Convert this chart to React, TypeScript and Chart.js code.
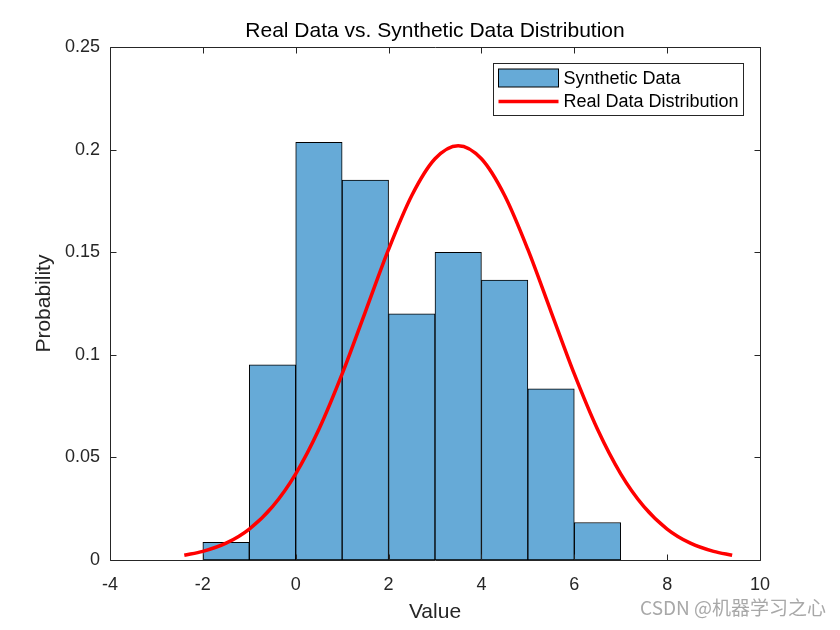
import React, { useEffect, useRef } from "react";
import { Chart, registerables } from "chart.js";

Chart.register(...registerables);

// ---- data ----
const chartTitle = "Real Data vs. Synthetic Data Distribution";
const xAxisTitle = "Value";
const yAxisTitle = "Probability";
const watermark = "CSDN @机器学习之心";

const histLabel = "Synthetic Data";
const binCenters = [-1.5, -0.5, 0.5, 1.5, 2.5, 3.5, 4.5, 5.5, 6.5];
const binProbabilities = [0.0086, 0.0952, 0.2036, 0.1852, 0.12, 0.15, 0.1365, 0.0835, 0.0183];

const curveLabel = "Real Data Distribution";
const curveX = [-2.4, -2, -1.5, -1, -0.5, 0, 0.5, 1, 1.5, 2, 2.5, 3, 3.5, 4, 4.5, 5, 5.5, 6, 6.5, 7, 7.5, 8, 8.5, 9, 9.4];
const curveY = [0.0023, 0.0042, 0.0082, 0.0151, 0.026, 0.042, 0.0637, 0.0907, 0.121, 0.1514, 0.1777, 0.1956, 0.202, 0.1956, 0.1777, 0.1514, 0.121, 0.0907, 0.0637, 0.042, 0.026, 0.0151, 0.0082, 0.0042, 0.0023];

const xTicks = [-4, -2, 0, 2, 4, 6, 8, 10];
const yTicks = [0, 0.05, 0.1, 0.15, 0.2, 0.25];

// ---- styles ----
const FONT = '"Liberation Sans", Arial, Helvetica, sans-serif';
const AXIS_COLOR = "#262626";
const BAR_FILL = "rgb(102,170,215)";
const LINE_COLOR = "rgb(255,0,0)";

const boxPlugin = {
  id: "matlabBox",
  afterLayout(chart: any) {
    // center the title over the plot area (as MATLAB does)
    const tb = chart.titleBlock;
    if (tb) {
      tb.left = chart.chartArea.left;
      tb.right = chart.chartArea.right;
    }
  },
  afterDatasetsDraw(chart: any) {
    const { ctx, chartArea } = chart;
    const { left, right, top, bottom } = chartArea;
    const xs = chart.scales.x;
    const ys = chart.scales.y;
    const tl = 6;
    ctx.save();
    ctx.strokeStyle = AXIS_COLOR;
    ctx.lineWidth = 1;
    ctx.beginPath();
    const L = Math.round(left) + 0.5;
    const R = Math.round(right) + 0.5;
    const T = Math.round(top) + 0.5;
    const B = Math.round(bottom) + 0.5;
    ctx.rect(L, T, R - L, B - T);
    for (const v of xTicks) {
      const px = Math.round(xs.getPixelForValue(v)) + 0.5;
      ctx.moveTo(px, B);
      ctx.lineTo(px, B - tl);
      ctx.moveTo(px, T);
      ctx.lineTo(px, T + tl);
    }
    for (const v of yTicks) {
      const py = Math.round(ys.getPixelForValue(v)) + 0.5;
      ctx.moveTo(L, py);
      ctx.lineTo(L + tl, py);
      ctx.moveTo(R, py);
      ctx.lineTo(R - tl, py);
    }
    ctx.stroke();
    ctx.restore();
  },
  afterDraw(chart: any) {
    const { ctx, chartArea } = chart;
    ctx.save();
    // legend
    const fontSize = 18;
    ctx.font = `${fontSize}px ${FONT}`;
    const labels = [histLabel, curveLabel];
    const textW = Math.max(...labels.map((t) => ctx.measureText(t).width));
    const boxRight = Math.round(chartArea.right - 17) + 0.5;
    const boxTop = Math.round(chartArea.top + 16) + 0.5;
    const swatchW = 60;
    const boxW = 5 + swatchW + 5 + textW + 5;
    const boxH = 52;
    const boxLeft = Math.round(boxRight - boxW) + 0.5;
    ctx.fillStyle = "#ffffff";
    ctx.fillRect(boxLeft, boxTop, boxRight - boxLeft, boxH);
    ctx.strokeStyle = AXIS_COLOR;
    ctx.lineWidth = 1;
    ctx.strokeRect(boxLeft, boxTop, boxRight - boxLeft, boxH);
    const sx = boxLeft + 5;
    // row 1: bar swatch
    const r1 = boxTop + 14.5;
    ctx.fillStyle = BAR_FILL;
    ctx.fillRect(sx, r1 - 9, swatchW, 18);
    ctx.strokeStyle = "#000";
    ctx.strokeRect(sx, r1 - 9, swatchW, 18);
    // row 2: line swatch
    const r2 = boxTop + 38;
    ctx.strokeStyle = LINE_COLOR;
    ctx.lineWidth = 3.5;
    ctx.beginPath();
    ctx.moveTo(sx, r2);
    ctx.lineTo(sx + swatchW, r2);
    ctx.stroke();
    ctx.fillStyle = "#000";
    ctx.textBaseline = "middle";
    ctx.textAlign = "left";
    ctx.fillText(labels[0], sx + swatchW + 5, r1 + 1);
    ctx.fillText(labels[1], sx + swatchW + 5, r2 + 1);
    // watermark
    ctx.font = `19px "Noto Sans CJK SC", ${FONT}`;
    ctx.fillStyle = "#a8a8a8";
    ctx.textAlign = "right";
    ctx.fillText(watermark, 826, 608);
    ctx.restore();
  },
};

export default function App() {
  const ref = useRef<HTMLCanvasElement | null>(null);
  useEffect(() => {
    if (!ref.current) return;
    const chart = new Chart(ref.current, {
      type: "bar",
      data: {
        datasets: [
          {
            type: "line",
            label: curveLabel,
            data: curveX.map((x, i) => ({ x, y: curveY[i] })),
            borderColor: LINE_COLOR,
            borderWidth: 3.5,
            pointRadius: 0,
            tension: 0.4,
            cubicInterpolationMode: "monotone",
            fill: false,
            order: 0,
          } as any,
          {
            type: "bar",
            label: histLabel,
            data: binCenters.map((x, i) => ({ x, y: binProbabilities[i] })),
            backgroundColor: BAR_FILL,
            borderColor: "#000000",
            borderWidth: 1,
            borderSkipped: false,
            barPercentage: 1,
            categoryPercentage: 1,
            order: 1,
          } as any,
        ],
      },
      options: {
        responsive: false,
        animation: false,
        layout: { padding: { left: 0, right: 80, top: 0, bottom: 0 } },
        plugins: {
          legend: { display: false },
          tooltip: { enabled: false },
          title: {
            display: true,
            text: chartTitle,
            color: "#000",
            font: { family: FONT, size: 21, weight: "normal" },
            padding: { top: 19, bottom: 3 },
          },
        },
        scales: {
          x: {
            type: "linear",
            min: -4,
            max: 10,
            offset: false,
            grid: { display: false, drawTicks: false },
            border: { display: false },
            afterBuildTicks: (s: any) => {
              s.ticks = xTicks.map((v) => ({ value: v }));
            },
            afterFit: (s: any) => {
              s.height = 70;
            },
            ticks: {
              color: AXIS_COLOR,
              font: { family: FONT, size: 18 },
              padding: 14,
              maxRotation: 0,
              callback: (v: any) => String(v),
            },
            title: {
              display: true,
              text: xAxisTitle,
              color: AXIS_COLOR,
              font: { family: FONT, size: 21 },
              padding: { top: 0, bottom: 5 },
            },
          },
          y: {
            type: "linear",
            min: 0,
            max: 0.25,
            grid: { display: false, drawTicks: false },
            border: { display: false },
            afterBuildTicks: (s: any) => {
              s.ticks = yTicks.map((v) => ({ value: v }));
            },
            afterFit: (s: any) => {
              s.width = 110;
            },
            ticks: {
              color: AXIS_COLOR,
              font: { family: FONT, size: 18 },
              padding: 10,
              callback: (v: any) => String(+Number(v).toFixed(2)),
            },
            title: {
              display: true,
              text: yAxisTitle,
              color: AXIS_COLOR,
              font: { family: FONT, size: 21 },
              padding: { top: 32, bottom: 0 },
            },
          },
        },
      },
      plugins: [boxPlugin],
    });
    return () => chart.destroy();
  }, []);
  return (
    <canvas
      ref={ref}
      width={840}
      height={630}
      style={{ position: "absolute", left: 0, top: 0, width: 840, height: 630, display: "block" }}
    />
  );
}
